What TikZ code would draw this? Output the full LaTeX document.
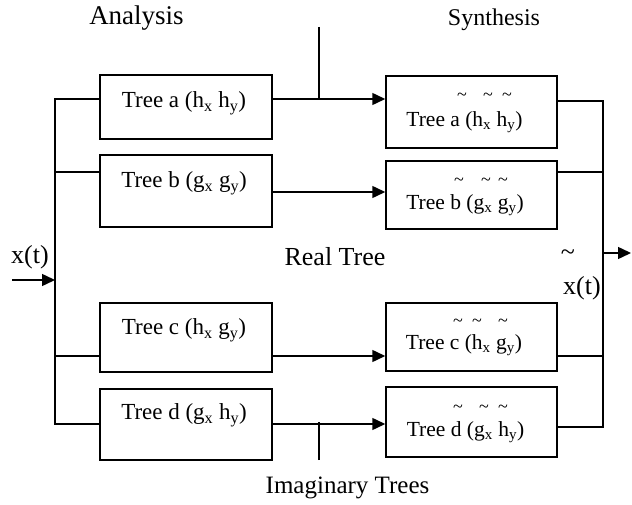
\documentclass[tikz,border=0pt]{standalone}
\usepackage{fontspec}
\setmainfont{Liberation Serif}
\usetikzlibrary{arrows.meta, calc}

\begin{document}
\begin{tikzpicture}[
        ->,
        >={Triangle[length=13pt, width=12pt]},
        line width=1.5pt,
        yscale=-1,
        x=1pt,
        y=1pt,
        every node/.style={font=\fontsize{23}{26}\selectfont, inner sep=0pt},
        tree box/.style={draw, -, line width=1.5pt, minimum width=172pt},
        tree text/.style={font=\fontsize{21.5}{24}\selectfont},
        tilde/.style={font=\fontsize{18}{18}\selectfont},
        big/.style={font=\fontsize{26}{28}\selectfont}
    ]
    \useasboundingbox (0,0) rectangle (632,505);

    % analysis side
    \node[tree box, minimum height=64pt] (aL) at (186,107) {};
    \node[tree box, minimum height=72pt] (bL) at (186,191) {};
    \node[tree box, minimum height=69pt] (cL) at (186,337.5) {};
    \node[tree box, minimum height=71pt] (dL) at (186,424.5) {};
    \node (aLt) at (184,103) {Tree a (h\textsubscript{x} h\textsubscript{y})};
    \node (bLt) at (184,183) {Tree b (g\textsubscript{x} g\textsubscript{y})};
    \node (cLt) at (184,330) {Tree c (h\textsubscript{x} g\textsubscript{y})};
    \node (dLt) at (184,415) {Tree d (g\textsubscript{x} h\textsubscript{y})};

    % synthesis side
    \node[tree box, minimum width=171pt, minimum height=72pt] (aR) at (471.5,112) {};
    \node[tree box, minimum width=171pt, minimum height=68pt] (bR) at (471.5,195) {};
    \node[tree box, minimum width=171pt, minimum height=68pt] (cR) at (471.5,337) {};
    \node[tree box, minimum width=171pt, minimum height=70pt] (dR) at (471.5,422) {};
    \node[tree text] (aRt) at (464.5,122) {Tree a (h\textsubscript{x} h\textsubscript{y})};
    \node[tree text] (bRt) at (465,205) {Tree b (g\textsubscript{x} g\textsubscript{y})};
    \node[tree text] (cRt) at (464,345) {Tree c (h\textsubscript{x} g\textsubscript{y})};
    \node[tree text] (dRt) at (465.5,432) {Tree d (g\textsubscript{x} h\textsubscript{y})};
    \foreach \x/\y [count=\i] in {462/97, 488/97, 507/97, 459/182, 486/182, 503/182,
            458/323, 477/323, 503/323, 458/409, 484/409, 503/409}
        \node[tilde] (tl\i) at (\x,\y) {\textasciitilde};

    % titles
    \node[font=\fontsize{27}{30}\selectfont] (analysis) at (136.5,18) {Analysis};
    \node[font=\fontsize{24}{26}\selectfont] (synthesis) at (494,20) {Synthesis};
    \node[big] (real) at (335,257) {Real Tree};
    \node[font=\fontsize{25}{28}\selectfont] (imag) at (347.5,488) {Imaginary Trees};
    \node[big] (xin label) at (30,257) {x(t)};
    \node[big] (xout tilde) at (568,255) {\textasciitilde};
    \node[big] (xout label) at (582,288) {x(t)};

    % input bus
    \coordinate (xin) at (12,280);
    \coordinate (bus) at (55,280);
    \coordinate (aLin) at ($(aL.west)+(0,-8)$);
    \coordinate (bLin) at ($(bL.west)+(0,-19)$);
    \coordinate (cLin) at ($(cL.west)+(0,18.5)$);
    \coordinate (dLin) at ($(dL.west)+(0,-0.5)$);
    \draw (xin) -- (bus);
    \draw[-] (aLin) -| (bus) |- (dLin);
    \draw[-] (bLin) -- (bLin -| bus);
    \draw[-] (cLin) -- (cLin -| bus);

    % analysis to synthesis
    \coordinate (aLout) at ($(aL.east)+(0,-8)$);
    \coordinate (bLout) at ($(bL.east)+(0,1)$);
    \coordinate (cLout) at ($(cL.east)+(0,18.5)$);
    \coordinate (dLout) at ($(dL.east)+(0,-0.5)$);
    \draw (aLout) -- (aLout -| aR.west);
    \draw (bLout) -- (bLout -| bR.west);
    \draw (cLout) -- (cLout -| cR.west);
    \draw (dLout) -- (dLout -| dR.west);

    % output bus
    \coordinate (aRout) at ($(aR.east)+(0,-11)$);
    \coordinate (bRout) at ($(bR.east)+(0,-23)$);
    \coordinate (cRout) at ($(cR.east)+(0,19)$);
    \coordinate (dRout) at ($(dR.east)+(0,5)$);
    \coordinate (sum) at (603,253);
    \coordinate (xout) at (631,253);
    \draw[-] (aRout) -| (sum) |- (dRout);
    \draw[-] (bRout) -- (bRout -| sum);
    \draw[-] (cRout) -- (cRout -| sum);
    \draw (sum) -- (xout);

    % real / imaginary marks
    \coordinate (tick top) at (319,27);
    \coordinate (tick bot) at (319,460);
    \draw[-] (tick top) -- (tick top |- aLout);
    \draw[-] (tick bot) -- ++(0,-38);
\end{tikzpicture}
\end{document}
